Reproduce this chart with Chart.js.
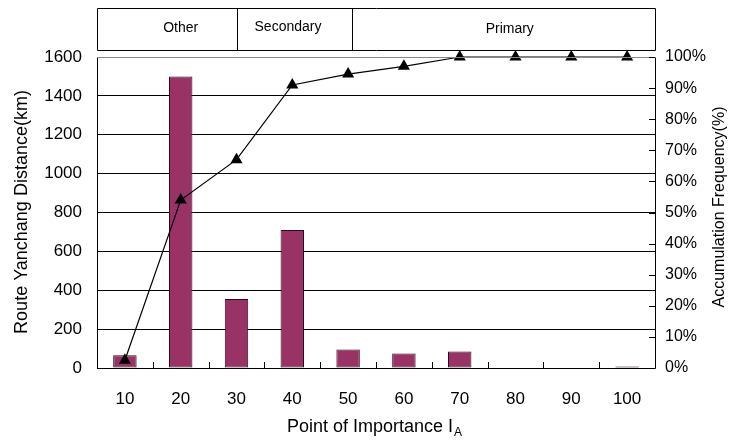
<!DOCTYPE html>
<html>
<head>
<meta charset="utf-8">
<script src="https://cdn.jsdelivr.net/npm/chart.js@4"></script>
<style>
  html, body { margin: 0; padding: 0; background: #fff; }
  #wrap { width: 731px; height: 441px; }
</style>
</head>
<body>
<div id="wrap"><canvas id="paretoChart" width="731" height="441"></canvas></div>
<script>
// categories and values
const importance = ['10', '20', '30', '40', '50', '60', '70', '80', '90', '100'];
const distanceKm = [65, 1500, 355, 710, 95, 75, 85, 0, 0, 8];
const accumPct = [2.5, 54, 67, 91, 94.5, 97, 100, 100, 100, 100];
const leftTicks = [0, 200, 400, 600, 800, 1000, 1200, 1400, 1600];
const rightTicks = [0, 10, 20, 30, 40, 50, 60, 70, 80, 90, 100];
const bandNames = ['Other', 'Secondary', 'Primary'];

const FONT = '"Liberation Sans", "DejaVu Sans", sans-serif';

// draws the plot frame, inward ticks, header box and axis titles
const decorPlugin = {
    id: 'decor',
    afterDraw(chart) {
        const ctx = chart.ctx;
        const a = chart.chartArea;
        const xs = chart.scales.x;
        const y1 = chart.scales.y1;
        ctx.save();

        // plot frame
        ctx.strokeStyle = '#000';
        ctx.lineWidth = 1;
        ctx.beginPath();
        ctx.moveTo(a.left + 0.5, a.top + 0.5);
        ctx.lineTo(a.left + 0.5, a.bottom + 0.5);
        ctx.lineTo(a.right + 0.5, a.bottom + 0.5);
        ctx.lineTo(a.right + 0.5, a.top + 0.5);
        ctx.stroke();
        ctx.strokeStyle = '#888';
        ctx.beginPath();
        ctx.moveTo(a.left, a.top + 0.5);
        ctx.lineTo(a.right, a.top + 0.5);
        ctx.stroke();

        // right axis ticks, pointing in
        ctx.strokeStyle = '#000';
        ctx.beginPath();
        rightTicks.forEach(function(v) {
            const y = Math.round(y1.getPixelForValue(v)) + 0.5;
            ctx.moveTo(a.right - 6, y);
            ctx.lineTo(a.right, y);
        });
        // x category boundary ticks, pointing up
        const step = (a.right - a.left) / importance.length;
        for (let i = 1; i < importance.length; i++) {
            const x = Math.round(a.left + step * i) + 0.5;
            ctx.moveTo(x, a.bottom);
            ctx.lineTo(x, a.bottom - 6);
        }
        ctx.stroke();

        // header box
        const top = 8, bot = 50;
        const d1 = Math.round(xs.getPixelForValue(2)) + 0.5;
        const d2 = Math.round(xs.getPixelForValue(4)) + 4.5;
        ctx.beginPath();
        ctx.rect(a.left + 0.5, top + 0.5, a.right - a.left, bot - top);
        ctx.moveTo(d1, top);
        ctx.lineTo(d1, bot);
        ctx.moveTo(d2, top);
        ctx.lineTo(d2, bot);
        ctx.stroke();
        ctx.fillStyle = '#000';
        ctx.font = '14px ' + FONT;
        ctx.textAlign = 'center';
        ctx.textBaseline = 'middle';
        ctx.fillText(bandNames[0], xs.getPixelForValue(1), 28);
        ctx.fillText(bandNames[1], (d1 + d2) / 2 - 7, 27);
        ctx.fillText(bandNames[2], (d2 + a.right) / 2 + 6, 29);

        // axis titles
        ctx.font = '18px ' + FONT;
        ctx.save();
        ctx.translate(22, 212);
        ctx.rotate(-Math.PI / 2);
        ctx.fillText('Route Yanchang Distance(km)', 0, 0);
        ctx.restore();
        ctx.font = '16px ' + FONT;
        ctx.save();
        ctx.translate(720, 207);
        ctx.rotate(-Math.PI / 2);
        ctx.fillText('Accumulation Frequency(%)', 0, 0);
        ctx.restore();

        // x title with subscript
        const main = 'Point of Importance I';
        ctx.font = '18px ' + FONT;
        const w = ctx.measureText(main).width;
        ctx.font = '12px ' + FONT;
        const ws = ctx.measureText('A').width;
        const x0 = 374 - (w + ws) / 2;
        ctx.textAlign = 'left';
        ctx.font = '18px ' + FONT;
        ctx.fillText(main, x0, 427);
        ctx.font = '12px ' + FONT;
        ctx.fillText('A', x0 + w + 1, 433);

        ctx.restore();
    }
};

const ctx = document.getElementById('paretoChart').getContext('2d');

const config = {
    data: {
        labels: importance,
        datasets: [
            {
                type: 'line',
                label: 'Accumulation Frequency',
                data: accumPct,
                yAxisID: 'y1',
                borderColor: '#000',
                borderWidth: 1.2,
                backgroundColor: '#000',
                pointStyle: 'triangle',
                pointRadius: 7,
                pointBorderWidth: 0,
                tension: 0,
                clip: false,
                order: 0
            },
            {
                type: 'bar',
                label: 'Route Yanchang Distance',
                data: distanceKm,
                yAxisID: 'y',
                backgroundColor: '#993366',
                borderColor: '#2a0a1a',
                borderWidth: 1,
                borderSkipped: false,
                categoryPercentage: 1,
                barPercentage: 0.42,
                order: 1
            }
        ]
    },
    options: {
        responsive: false,
        animation: false,
        layout: { padding: { top: 57, left: 0, right: 0, bottom: 0 } },
        plugins: {
            legend: { display: false },
            tooltip: { enabled: false }
        },
        scales: {
            x: {
                grid: { display: false, drawTicks: false },
                border: { display: false },
                ticks: { color: '#000', padding: 21, font: { size: 17, family: FONT } },
                afterFit: function(s) { s.height = 73; }
            },
            y: {
                position: 'left',
                min: 0,
                max: 1600,
                afterBuildTicks: function(s) {
                    s.ticks = leftTicks.map(function(v) { return { value: v }; });
                },
                grid: { color: '#000', lineWidth: 1, drawTicks: false },
                border: { display: false },
                ticks: {
                    color: '#000',
                    padding: 15,
                    font: { size: 17, family: FONT },
                    callback: function(v) { return String(v); }
                },
                afterFit: function(s) { s.width = 97; }
            },
            y1: {
                position: 'right',
                min: 0,
                max: 100,
                afterBuildTicks: function(s) {
                    s.ticks = rightTicks.map(function(v) { return { value: v }; });
                },
                grid: { display: false, drawTicks: false },
                border: { display: false },
                ticks: {
                    color: '#000',
                    padding: 10,
                    font: { size: 16, family: FONT },
                    callback: function(v) { return v + '%'; }
                },
                afterFit: function(s) { s.width = 76; }
            }
        }
    },
    plugins: [decorPlugin]
};

try {
    new Chart(ctx, config);
} catch (error) {
    console.error('Error creating chart:', error);
}
</script>
</body>
</html>
